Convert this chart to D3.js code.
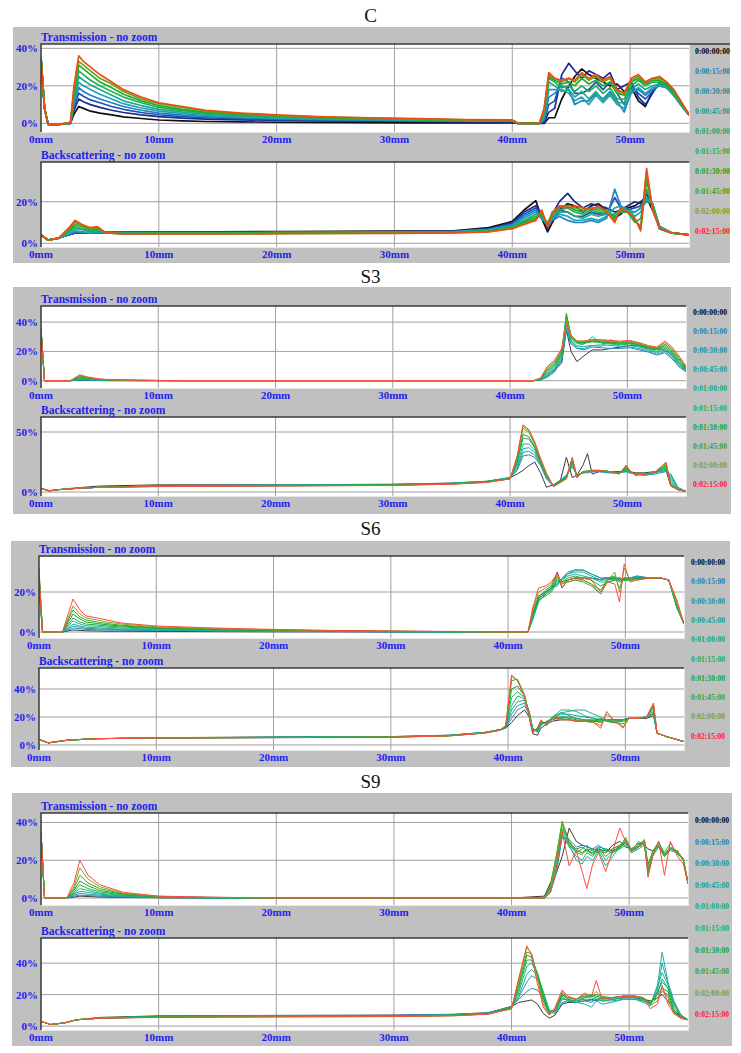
<!DOCTYPE html>
<html>
<head>
<meta charset="utf-8">
<script src="https://cdn.jsdelivr.net/npm/d3@7"></script>
<style>
body { margin: 0; background: #fff; }
svg { display: block; }
</style>
</head>
<body>
<div id="chart"></div>
<script>
// legend entries (scan times)
const times = ["0:00:00:00", "0:00:15:00", "0:00:30:00", "0:00:45:00", "0:01:00:00",
               "0:01:15:00", "0:01:30:00", "0:01:45:00", "0:02:00:00", "0:02:15:00"]
const timeColors = ["#000000", "#1f7fae", "#1a8f9c", "#17a08a", "#14aa70",
                    "#18b050", "#12a822", "#40a420", "#84a020", "#ff2020"]
const lineColorsC = ["#101010", "#1a2a92", "#1f50b2", "#2082c2", "#20a2b4",
                     "#1eaa8c", "#20b058", "#26a82c", "#5aa820", "#f24a14"]
const lineColorsS = ["#3a3a3a", "#2a8ab8", "#20a0b0", "#1cb0a0", "#1cb880",
                     "#20b050", "#14a424", "#40a820", "#84a424", "#ff4a40"]
const xTicks = [0, 10, 20, 30, 40, 50]

// ---------- C ----------
const cTransX = [0, 0.3, 0.6, 1.5, 2.5, 2.8, 3.2, 3.6, 4.2, 5, 6, 7, 8.5, 10, 12, 14, 17, 20, 24, 28, 32, 36, 40, 40.5, 42.3,
  42.7, 43.1, 43.6, 44.2, 44.8, 45.3, 45.9, 46.5, 47.1, 47.7, 48.3, 48.9, 49.5, 50.1, 50.7, 51.3, 51.9, 52.5, 53.1, 53.7, 54.3, 55]
const cTrans = [
  [33, 8, -0.5, -0.5, 0, 5, 9, 8, 6.5, 5.5, 4.5, 3.5, 2.6, 1.8, 1.3, 1, 0.8, 0.6, 0.5, 0.4, 0.3, 0.3, 0.3, 0, 0, 0, 3, 3, 13, 20, 25, 29, 26, 24, 22, 20, 21, 17, 19, 12, 9, 17, 21, 21, 17, 11, 5],
  [35, 8, -0.5, -0.5, 0, 7, 13, 11.5, 10, 8.5, 7, 5.8, 4.5, 3.6, 2.8, 2.3, 1.9, 1.6, 1.3, 1.2, 1, 0.9, 0.9, 0, 0, 0.5, 6, 8, 26, 32, 28, 24, 28, 26, 24, 27, 18, 20, 22, 14, 10, 16, 22, 20, 16, 10, 4.5],
  [35, 8, -0.5, -0.5, 0, 9, 16, 14.5, 12.5, 11, 9, 7.5, 5.8, 4.6, 3.6, 3, 2.4, 2, 1.7, 1.4, 1.2, 1.1, 1, 0, 0, 1, 10, 12, 24, 22, 16, 16, 18, 22, 18, 22, 16, 10, 20, 16, 13, 17, 21, 19, 15, 10, 4.5],
  [35, 8, -0.5, -0.5, 0, 10, 19, 17, 15, 13, 11, 9, 7, 5.5, 4.4, 3.6, 2.9, 2.4, 2, 1.7, 1.4, 1.2, 1.1, 0, 0, 2, 14, 16, 20, 18, 10, 12, 12, 16, 13, 17, 12, 6, 17, 18, 15, 18, 20, 19, 15, 10, 4.5],
  [35, 8, -0.5, -0.5, 0, 12, 22, 20, 18, 15.5, 13, 10.5, 8.2, 6.5, 5.2, 4.2, 3.4, 2.8, 2.3, 2, 1.6, 1.4, 1.3, 0, 0, 3, 18, 18, 18, 16, 12, 14, 10, 15, 11, 15, 10, 8, 16, 19, 16, 19, 20, 19, 15, 10, 4.5],
  [35, 8, -0.5, -0.5, 0.1, 13, 25, 23, 20.5, 18, 15, 12, 9.5, 7.5, 6, 4.8, 3.8, 3.2, 2.6, 2.2, 1.8, 1.5, 1.4, 0, 0, 4, 22, 20, 17, 18, 14, 17, 13, 17, 12, 16, 11, 11, 18, 21, 18, 20, 21, 19, 15, 10, 4.5],
  [35, 8, -0.5, -0.5, 0.2, 15, 28, 26, 23, 20, 17, 14, 11, 8.5, 6.8, 5.5, 4.3, 3.6, 2.9, 2.4, 2, 1.7, 1.5, 0, 0, 5, 24, 22, 19, 20, 17, 20, 17, 20, 16, 19, 13, 13, 20, 23, 20, 22, 22, 20, 16, 11, 4.5],
  [35, 8, -0.5, -0.5, 0.3, 16, 31, 29, 26, 22, 19, 15.5, 12, 9.5, 7.5, 6, 4.8, 4, 3.1, 2.6, 2.2, 1.8, 1.6, 0, 0, 6, 25, 23, 21, 22, 20, 24, 21, 23, 20, 22, 16, 15, 22, 24, 21, 23, 23, 21, 17, 11, 4.5],
  [35, 8, -0.5, -0.5, 0.4, 18, 33, 31, 28, 24, 21, 17, 13, 10.5, 8.5, 6.5, 5.2, 4.2, 3.3, 2.8, 2.3, 1.9, 1.7, 0, 0, 7, 26, 24, 22, 24, 22, 26, 23, 25, 22, 24, 17, 16, 23, 25, 22, 24, 24, 22, 18, 12, 4.5],
  [35, 8, -0.5, -0.5, 0.5, 20, 36, 33, 30, 26, 22, 18, 14, 11, 9, 7, 5.5, 4.5, 3.5, 3, 2.5, 2, 1.8, 0, 0, 8, 27, 24, 23, 24, 23, 27, 24, 26, 23, 25, 18, 16, 24, 26, 22, 24, 25, 22, 18, 12, 4.5]
]
const cBackX = [0, 0.6, 1.5, 2.3, 2.9, 3.5, 4.2, 4.8, 5.5, 7, 10, 15, 20, 25, 30, 35, 38, 40, 41, 42,
  42.5, 43, 43.4, 44, 44.7, 45.3, 46, 46.7, 47.3, 48, 48.7, 49.2, 49.8, 50.4, 50.9, 51.4, 51.9, 52.5, 53.5, 55]
const cBack = [
  [4, 1.5, 2.5, 4, 5, 5, 5, 5, 5.2, 5.3, 5.4, 5.5, 5.6, 5.7, 5.8, 6, 7.5, 10.5, 16, 20.5, 12, 5.5, 10, 16, 19, 18, 15, 18, 19, 16, 12, 14, 17, 18, 20, 22, 16, 8, 5, 4],
  [4, 1.5, 2.5, 4, 5, 5, 5, 5, 5.1, 5.2, 5.3, 5.3, 5.4, 5.5, 5.6, 5.8, 7, 10, 15, 18, 14, 7, 14, 20, 24, 20, 17, 19, 18, 17, 15, 16, 18, 20, 19, 24, 18, 8, 5, 4],
  [4, 1.5, 2.5, 4, 5, 5, 5, 5, 5, 5.1, 5.2, 5.2, 5.3, 5.4, 5.5, 5.7, 6.8, 9.5, 14, 17, 13, 8, 12, 16, 15, 13, 13, 15, 14, 14, 22, 17, 16, 17, 18, 22, 19, 8, 5, 4],
  [4, 1.5, 2.5, 4, 5.5, 5.2, 5, 5.2, 5, 5, 5.1, 5.1, 5.2, 5.3, 5.4, 5.6, 6.6, 9, 13, 16, 12, 9, 11, 13, 11, 10, 10, 11, 10, 12, 26, 18, 15, 15, 17, 20, 19, 8, 5, 4],
  [4, 1.5, 2.5, 4.5, 6, 5.5, 5, 5.5, 5, 4.9, 5, 5, 5.1, 5.2, 5.3, 5.5, 6.4, 8.5, 12, 15, 12, 9, 12, 14, 13, 11, 11, 12, 11, 13, 17, 18, 16, 15, 17, 21, 19, 8, 5, 4],
  [4, 1.5, 2.5, 5, 7, 6.5, 5.5, 6, 5, 4.8, 4.9, 4.9, 5, 5.1, 5.2, 5.4, 6.2, 8, 11, 14, 12, 10, 13, 15, 15, 13, 12, 14, 13, 14, 14, 16, 16, 13, 15, 22, 19, 7, 5, 4],
  [4, 1.5, 2.5, 5.5, 8, 7, 6, 6.5, 5, 4.7, 4.8, 4.8, 4.9, 5, 5.1, 5.3, 6, 7.8, 10.5, 13, 13, 10, 14, 16, 17, 15, 14, 16, 15, 15, 13, 15, 15, 10, 12, 26, 18, 7, 5, 4],
  [4, 1.5, 2.5, 6, 9, 8, 6.5, 7, 5, 4.6, 4.7, 4.7, 4.8, 4.9, 5, 5.2, 5.8, 7.5, 10, 12, 14, 9, 15, 17, 18, 16, 15, 17, 16, 16, 12, 16, 15, 11, 8, 30, 18, 7, 5, 4],
  [4, 1.5, 2.5, 6.5, 10, 8.5, 7, 7.5, 5, 4.5, 4.6, 4.6, 4.7, 4.8, 4.9, 5.1, 5.6, 7.2, 9.5, 11.5, 15, 8.5, 15, 18, 18, 17, 16, 17, 17, 16, 11, 17, 15, 12, 7, 34, 17, 7, 5, 4],
  [4, 1.5, 2.5, 7, 11, 9, 7.5, 8, 5, 4.5, 4.5, 4.5, 4.6, 4.7, 4.8, 5, 5.5, 7, 9, 11, 16, 8, 14, 18, 17, 18, 17, 16, 18, 15, 10, 17, 15, 12, 6, 36, 16, 7, 5, 4]
]

// ---------- S3 ----------
const s3TransX = [0, 0.3, 0.6, 2.5, 3.3, 4, 5, 6, 8.5, 12, 20, 30, 40, 42, 42.6, 43.2, 43.8, 44.4, 44.8, 45.2,
  45.7, 46.3, 47, 47.8, 48.6, 49.4, 50.2, 51, 51.8, 52.5, 53.2, 53.8, 54.4, 55]
const s3Trans = [
  [33, 0, 0, 0, 0.3, 0.2, 0.1, 0, 0, 0, 0, 0, 0, 0, 0.5, 4, 7.5, 12, 34.6, 20, 13, 17, 21, 21, 22, 23, 24, 24, 23, 22, 21, 18, 12, 7],
  [35, 0, 0, 0, 0.5, 0.4, 0.2, 0.1, 0, 0, 0, 0, 0, 0, 0.4, 2.5, 6, 14, 35, 25, 22, 21, 23, 22.5, 22, 22, 22.5, 21, 19.5, 17.5, 19, 15, 9.5, 6],
  [35, 0, 0, 0, 0.8, 0.6, 0.3, 0.2, 0, 0, 0, 0, 0, 0, 0.5, 3, 7, 15, 36, 26, 22, 22, 24, 23.5, 28, 23, 23, 22, 20, 18, 20, 16, 10, 6.5],
  [35, 0, 0, 0, 1, 0.8, 0.4, 0.2, 0.1, 0, 0, 0, 0, 0, 0.6, 4, 8, 16, 38, 27, 23, 23.5, 24, 24.5, 24, 23.5, 24, 23, 21, 19, 21, 17, 11, 7],
  [35, 0, 0, 0, 1.5, 1.2, 0.6, 0.3, 0.1, 0, 0, 0, 0, 0, 0.8, 5, 9, 17, 40, 28, 24, 25, 30, 25.5, 25, 24.5, 25, 23.5, 21.5, 20, 22, 18, 12, 7.5],
  [35, 0, 0, 0, 2, 1.5, 0.8, 0.4, 0.2, 0, 0, 0, 0, 0, 1, 6, 10, 18, 43, 29, 25.5, 25.5, 26.5, 26, 25.5, 25, 25.5, 24, 22, 21, 23, 19, 13, 8],
  [35, 0, 0, 0, 2.5, 1.8, 0.9, 0.4, 0.2, 0, 0, 0, 0, 0, 1, 7, 11, 19, 46, 30, 26, 26, 27, 26.5, 26, 25.5, 26, 24.5, 22.5, 21.5, 24, 20, 14, 8.5],
  [35, 0, 0, 0, 3, 2, 1, 0.5, 0.2, 0, 0, 0, 0, 0, 1.2, 8, 12, 20, 44, 31, 26.5, 26.5, 27.5, 27, 26.5, 26, 26.5, 25, 23, 22, 25, 21, 15, 9],
  [35, 0, 0, 0, 3.5, 2.2, 1, 0.5, 0.3, 0, 0, 0, 0, 0, 1.5, 9, 13, 21, 42, 31, 27, 27, 28, 27.5, 27, 26.5, 27, 25.5, 23.5, 22.5, 26, 22, 16, 9.5],
  [36, 0, 0, 0, 4, 2.5, 1.2, 0.6, 0.3, 0, 0, 0, 0, 0, 2, 10, 14, 22, 39, 30, 27, 27, 28, 28, 27.5, 27, 27.5, 26, 24, 23, 27, 23, 17, 10]
]
const s3BackX = [0, 0.7, 1.5, 3, 5, 10, 20, 30, 35, 38, 40, 40.6, 41.1, 41.6, 42.1, 42.6, 43.1, 43.7, 44.3, 44.8,
  45.3, 45.7, 46.2, 46.6, 47, 47.6, 48.5, 49.3, 49.9, 50.2, 50.7, 51.5, 52.3, 53.3, 53.7, 54.3, 55]
const s3Back = [
  [3, 1, 2, 3.5, 5, 6, 6, 6.5, 7.5, 9, 12, 15, 18, 22, 25, 16, 4, 6, 10, 29, 12, 14, 22, 32, 15, 17, 17, 17, 18, 17, 16, 16, 17, 18, 5, 2, 0.5],
  [3, 1, 2, 3, 4, 5.3, 5.8, 6.3, 7.3, 8.8, 12, 18, 30, 31, 29, 22, 11, 5, 10, 14, 21, 14, 16, 16, 17, 17, 16, 16, 17, 16, 15, 14, 15, 17, 15, 4, 0.5],
  [3, 1, 2, 3, 4, 5.2, 5.7, 6.2, 7.2, 8.7, 12, 19, 33, 34, 31, 23, 12, 5, 10, 14, 22, 14, 16, 17, 17, 17, 16, 16, 17, 16, 15, 14, 16, 18, 14, 3, 0.5],
  [3, 1, 2, 3, 4, 5.1, 5.6, 6.1, 7.1, 8.6, 11.5, 20, 36, 37, 33, 24, 12, 5, 10, 13, 28, 14, 16, 17, 17, 18, 17, 16, 18, 17, 15, 14, 16, 19, 12, 3, 0.5],
  [3, 1, 2, 3, 4, 5, 5.5, 6, 7, 8.5, 11.5, 22, 40, 40, 35, 24, 13, 5, 9, 13, 24, 13, 16, 17, 18, 18, 17, 16, 18, 17, 15, 15, 17, 20, 10, 2, 0.5],
  [3, 1, 2, 3, 4, 4.9, 5.4, 5.9, 6.9, 8.4, 11.5, 24, 45, 44, 37, 25, 13, 5, 9, 12, 25, 13, 17, 17.5, 18, 18, 17, 16, 19, 17, 15, 15, 16, 21, 8, 2, 0.5],
  [3, 1, 2, 3, 4, 4.8, 5.3, 5.8, 6.8, 8.3, 11, 26, 48, 46, 38, 25, 14, 5, 9, 12, 26, 13, 17, 17.5, 18, 18, 17, 15.5, 20, 17, 14.5, 15, 16, 22, 7, 2, 0.5],
  [3, 1, 2, 3, 4, 4.7, 5.2, 5.7, 6.7, 8.2, 11, 28, 53, 50, 40, 26, 14, 5, 8.5, 11, 27, 12.5, 17, 17, 18, 18, 17, 15, 21, 17, 14, 15, 16, 23, 6, 2, 0.5],
  [3, 1, 2, 3, 4, 4.6, 5.1, 5.6, 6.6, 8.1, 11, 29, 55, 51, 41, 27, 15, 4.5, 8, 11, 28, 12, 17, 17, 18, 18, 17, 15, 22, 18, 14, 15, 16, 24, 5, 2, 0.5],
  [3, 1, 2, 3, 4, 4.5, 5, 5.5, 6.5, 8, 11, 30, 56, 52, 42, 28, 16, 4.4, 8, 11.5, 29, 12, 17, 17, 18, 18, 17, 15, 22.5, 18, 14, 15, 16, 25, 5, 2, 0.5]
]

// ---------- S6 ----------
const s6TransX = [0, 0.3, 0.6, 2, 2.9, 3.5, 4, 5, 5.8, 7, 10, 15, 20, 25, 30, 35, 40, 41.7, 42.1, 42.6,
  43.2, 43.7, 44.2, 44.6, 45.1, 45.7, 46.4, 47.1, 47.9, 48.5, 49.1, 49.5, 49.9, 50.4, 51, 52, 53, 53.7, 54.4, 55]
const s6Trans = [
  [22, 0, 0, 0, 1, 0.8, 0.6, 0.5, 0.4, 0.4, 0.3, 0.2, 0.1, 0.1, 0, 0, 0, 0, 8, 18, 20, 22, 30, 22, 26, 27, 27, 27, 26, 27, 27, 26, 27, 27, 27, 27, 27, 26, 14, 4],
  [24, 0, 0, 0, 2, 1.6, 1.3, 1.1, 1, 0.9, 0.7, 0.5, 0.3, 0.2, 0.1, 0, 0, 0, 6, 15, 19, 22, 24, 26, 29, 31, 31, 29, 27, 27, 26, 27, 26, 27, 28, 27, 27, 26, 13, 4],
  [24, 0, 0, 0, 3, 2.3, 1.8, 1.6, 1.4, 1.2, 0.9, 0.6, 0.4, 0.3, 0.2, 0, 0, 0, 7, 16, 20, 22, 23, 27, 30, 31, 31, 29, 27, 27, 27, 27, 26, 27, 28, 27, 27, 26, 12, 4],
  [25, 0, 0, 0, 4, 3, 2.4, 2.1, 1.8, 1.5, 1.1, 0.7, 0.5, 0.3, 0.2, 0.1, 0, 0, 7, 17, 21, 23, 24, 27, 29, 30, 30, 28, 26, 26, 27, 27, 26, 27, 27, 27, 27, 26, 12, 4],
  [26, 0, 0, 0, 5.5, 4, 3.2, 2.8, 2.4, 2, 1.4, 0.9, 0.6, 0.4, 0.2, 0.1, 0, 0, 8, 18, 20, 22, 25, 26, 28, 29, 28, 27, 25, 25, 26, 27, 26, 27, 27, 27, 27, 26, 12, 4],
  [28, 0, 0, 0, 7, 5, 4, 3.5, 3, 2.5, 1.7, 1.1, 0.8, 0.5, 0.3, 0.1, 0, 0, 8, 16, 18, 20, 26, 25, 27, 28, 27, 26, 23, 25, 26, 26, 26, 26, 27, 27, 27, 26, 13, 4],
  [30, 0, 0, 0, 9, 6.5, 5, 4.2, 3.6, 3, 2, 1.3, 0.9, 0.5, 0.3, 0.2, 0, 0, 9, 17, 19, 21, 27, 25, 26, 27, 26, 24, 21, 26, 27, 25, 26, 26, 27, 27, 27, 26, 13, 4],
  [32, 0, 0, 0, 11, 7.5, 6, 5, 4.2, 3.4, 2.2, 1.5, 1, 0.6, 0.4, 0.2, 0, 0, 10, 18, 20, 23, 28, 25, 25, 26, 25, 23, 19, 27, 28, 22, 27, 26, 26, 27, 27, 26, 14, 4],
  [30, 0, 0, 0, 13, 9, 7, 6, 5, 4, 2.6, 1.7, 1.1, 0.7, 0.4, 0.2, 0, 0, 11, 20, 22, 24, 29, 24, 25, 26, 26, 24, 19, 26, 30, 20, 32, 26, 26, 27, 27, 26, 14, 4],
  [28, 0, 0, 0, 16.5, 11, 8, 7, 6, 4.5, 3, 2, 1.3, 0.8, 0.5, 0.3, 0, 0, 12, 22, 23, 25, 29.5, 22, 26, 27, 27, 26, 20, 25, 24, 15, 34, 25, 26, 27, 27, 26, 16, 4]
]
const s6BackX = [0, 0.8, 2.5, 5, 10, 20, 30, 35, 38, 39.3, 39.8, 40.3, 40.8, 41.4, 41.8, 42.1, 42.5, 42.8, 43.3, 43.8,
  44.5, 45.2, 45.8, 46.5, 47.3, 47.9, 48.4, 49, 49.8, 50.3, 51, 51.8, 52.4, 52.7, 53.5, 55]
const s6Back = [
  [4, 1.5, 3.5, 4.5, 5.2, 5.7, 6, 7, 9, 11, 12, 16, 21, 25, 20, 8, 7, 12, 15, 17, 18, 18, 17, 17, 17, 17, 18, 18, 18, 19, 19, 19, 21, 8.4, 6, 2.4],
  [4, 1.5, 3.5, 4.5, 5, 5.6, 5.9, 6.9, 8.9, 10.9, 12, 19, 25, 28, 22, 12, 9, 14, 17, 18, 20, 20, 19, 18, 18, 18, 18, 18, 18, 19, 19, 20, 22, 8.4, 6, 2.4],
  [4, 1.5, 3.5, 4.5, 5, 5.5, 5.8, 6.8, 8.8, 10.8, 12, 22, 28, 30, 23, 12, 10, 14, 17, 19, 22, 22, 21, 20, 19, 18, 18, 17, 18, 19, 19, 20, 23, 8.4, 6, 2.4],
  [4, 1.5, 3.5, 4.5, 5, 5.5, 5.8, 6.8, 8.8, 10.8, 12.5, 25, 31, 32, 24, 11, 10, 15, 16, 20, 23, 24, 25, 25, 22, 20, 18, 17, 18, 19, 19, 20, 24, 8.4, 6, 2.4],
  [4, 1.5, 3.5, 4.5, 5, 5.4, 5.7, 6.7, 8.7, 10.7, 12.5, 28, 35, 33, 24, 11, 11, 15, 16, 20, 25, 25, 24, 21, 19, 18, 18, 17, 18, 19, 19, 20, 25, 8.4, 6, 2.4],
  [4, 1.5, 3.5, 4.5, 5, 5.4, 5.7, 6.7, 8.7, 10.7, 13, 34, 38, 34, 23, 10, 11, 16, 16, 19, 23, 21, 19, 18, 17, 18, 17, 16, 18, 19, 19, 20, 27, 8.4, 6, 2.4],
  [4, 1.5, 3.5, 4.5, 5, 5.3, 5.6, 6.6, 8.6, 10.6, 13, 40, 42, 35, 22, 10, 11, 16, 15, 19, 20, 19, 18, 17, 17, 19, 17, 16, 17, 19, 19, 20, 27, 8.4, 6, 2.4],
  [4, 1.5, 3.5, 4.5, 5, 5.3, 5.6, 6.6, 8.6, 10.6, 13.5, 46, 47, 36, 22, 9, 12, 17, 15, 19, 19, 18, 17, 17, 17, 16, 18, 16, 15, 19, 19, 20, 28, 8.4, 6, 2.4],
  [4, 1.5, 3.5, 4.5, 5, 5.2, 5.5, 6.5, 8.5, 10.5, 14, 49, 46, 35, 21, 9, 12, 17, 14, 19, 18, 18, 17, 17, 16, 14, 22, 18, 13, 19, 19, 20, 29, 8.4, 6, 2.4],
  [4, 1.5, 3.5, 4.5, 5, 5.2, 5.5, 6.5, 8.5, 10.5, 14, 50, 46, 34.5, 20, 8.5, 12, 18, 14, 20, 18, 18, 17, 17, 16, 12, 24, 18, 12, 19, 19, 20, 30, 8.4, 6, 2.4]
]

// ---------- S9 ----------
const s9TransX = [0, 0.3, 0.6, 2.2, 2.8, 3.3, 4, 5, 7, 10, 14, 20, 30, 40, 42.8, 43.3, 43.8, 44.3, 44.9, 45.5,
  46, 46.4, 46.9, 47.4, 48, 48.6, 49.2, 49.7, 50.2, 50.8, 51.3, 51.6, 52, 52.5, 53, 53.5, 54.1, 54.6, 55]
const s9Trans = [
  [33, 0, 0, 0, 0.5, 1, 0.8, 0.5, 0.3, 0.1, 0, 0, 0, 0, 1, 8, 13, 22, 37, 30, 28, 27, 26, 25, 24, 28, 30, 27, 26, 29, 28, 26, 25, 27, 22, 26, 25, 20, 8],
  [35, 0, 0, 0, 1, 1.5, 1.3, 1, 0.5, 0.2, 0, 0, 0, 0, 0, 3, 13, 32, 31, 27, 28, 27, 26, 28, 25, 26, 28, 30, 25, 27, 29, 15, 24, 28, 22, 26, 25, 20, 7.5],
  [35, 0, 0, 0, 1.5, 2.5, 2, 1.5, 0.8, 0.3, 0.1, 0, 0, 0, 0, 3, 14, 33, 28, 24, 26, 28, 25, 27, 26, 25, 27, 29, 24, 26, 28, 16, 25, 27, 22, 26, 24, 20, 7.5],
  [35, 0, 0, 0, 2, 3.5, 3, 2, 1, 0.4, 0.1, 0, 0, 0, 0, 4, 16, 34, 27, 22, 20, 24, 22, 26, 20, 24, 26, 28, 25, 28, 30, 14, 24, 28, 23, 26, 25, 20, 7.5],
  [35, 0, 0, 0, 2.5, 5, 4, 2.5, 1.3, 0.5, 0.2, 0, 0, 0, 0, 5, 18, 36, 28, 20, 18, 22, 20, 25, 17, 22, 27, 30, 24, 27, 29, 12, 22, 27, 22, 25, 24, 20, 7.5],
  [35, 0, 0, 0, 3, 7, 5, 3.2, 1.6, 0.6, 0.2, 0, 0, 0, 0, 6, 20, 37, 30, 24, 23, 26, 23, 27, 22, 25, 26, 31, 25, 28, 31, 15, 23, 28, 22, 26, 25, 20, 7.5],
  [35, 0, 0, 0, 4, 9, 6.5, 4, 2, 0.7, 0.3, 0, 0, 0, 0, 7, 22, 39, 29, 26, 27, 25, 24, 26, 25, 24, 28, 29, 26, 27, 30, 18, 24, 30, 23, 27, 24, 21, 8],
  [35, 0, 0, 0, 5, 12, 8, 5, 2.2, 0.8, 0.3, 0, 0, 0, 0, 6, 22, 40.7, 30, 25, 24, 26, 25, 24, 26, 25, 27, 32, 25, 30, 28, 14, 25, 29, 24, 29, 23, 21, 8],
  [35, 0, 0, 0, 6, 16, 10, 6, 2.5, 0.9, 0.4, 0, 0, 0, 0, 5, 20, 40, 28, 26, 24, 25, 23, 25, 24, 26, 28, 30, 26, 27, 29, 16, 24, 28, 22, 26, 25, 20, 8],
  [35, 0, 0, 0, 8, 20, 12, 7, 3, 1, 0.5, 0, 0, 0, 0, 3, 15, 35, 17, 25, 14, 5, 18, 24, 14, 25, 37, 30, 26, 27, 30, 11, 22, 30, 12, 30, 22, 18, 8]
]
const s9BackX = [0, 0.8, 2, 3, 5, 10, 20, 30, 35, 38, 40, 40.6, 41.3, 41.7, 42.2, 42.7, 43.2, 43.7, 44.3, 44.8,
  45.5, 46.2, 46.8, 47.2, 47.7, 48.5, 49.5, 50.5, 51.2, 51.8, 52.4, 52.8, 53.3, 53.8, 54.4, 55]
const s9Back = [
  [3, 1, 2, 4, 5.5, 6.5, 6.8, 7, 7.5, 8.5, 12.5, 15, 16, 16.6, 14, 8, 5, 7, 14, 15, 15, 16, 17, 16, 18, 17, 18, 18, 17, 16, 18, 20, 16, 10, 6, 4],
  [3, 1, 2, 4, 5, 6.3, 6.6, 6.8, 7.3, 8.3, 12.5, 17, 22, 24, 23, 18, 9, 8, 15, 16, 16, 17, 16, 17, 16, 17, 18, 18, 16, 15, 20, 30, 24, 14, 7, 4],
  [3, 1, 2, 4, 5, 6.2, 6.5, 6.7, 7.2, 8.2, 12, 18, 28, 32, 30, 21, 10, 9, 17, 17, 15, 16, 15, 17, 16, 16, 17, 17, 16, 14, 22, 40, 27, 15, 7, 4],
  [3, 1, 2, 4, 5, 6.1, 6.4, 6.6, 7.1, 8.1, 12, 19, 33, 36, 32, 22, 10, 9, 18, 16, 15, 14, 12, 16, 14, 15, 17, 17, 15, 13, 26, 47, 28, 16, 7, 4],
  [3, 1, 2, 4, 5, 6, 6.3, 6.5, 7, 8, 12, 21, 38, 40, 33, 21, 9, 10, 19, 16, 15, 18, 18, 17, 16, 17, 18, 18, 16, 14, 24, 34, 26, 14, 6, 4],
  [3, 1, 2, 4, 5, 5.9, 6.2, 6.4, 6.9, 7.9, 12, 23, 42, 42, 34, 20, 8, 10, 20, 17, 16, 18, 19, 18, 17, 18, 19, 19, 17, 14, 22, 28, 24, 12, 6, 4],
  [3, 1, 2, 4, 5, 5.8, 6.1, 6.3, 6.8, 7.8, 11.5, 25, 45, 44, 33, 18, 8, 10, 20, 18, 17, 19, 20, 19, 18, 18, 19, 19, 18, 15, 20, 24, 22, 10, 5, 4],
  [3, 1, 2, 4, 5, 5.7, 6, 6.2, 6.7, 7.7, 11.5, 27, 47, 46, 32, 16, 7.5, 10, 21, 18, 17, 19, 19, 20, 19, 18, 19, 19, 18, 14, 18, 22, 20, 9, 5, 4],
  [3, 1, 2, 4, 5, 5.6, 5.9, 6.1, 6.6, 7.6, 11, 29, 50, 46, 30, 14, 7, 11, 22, 18, 17, 20, 19, 22, 18, 18, 19, 19, 18, 13, 16, 24, 18, 8, 5, 4],
  [3, 1, 2, 4, 5, 5.5, 5.8, 6, 6.5, 7.5, 11, 30, 51, 45, 27, 12, 7, 12, 23, 19, 17, 21, 19, 29, 17, 18, 19, 19, 18, 11, 14, 26, 14, 8, 5, 4]
]

// layout of the four panels (pixel boxes)
const panels = [
  {name: "C", titleY: 22, box: [13, 27, 730, 263], legend: {x: 695, y: 53.5, step: 20.1, w: 35},
   colors: lineColorsC, lw: 1.7, topLineEnd: 730,
   plots: [
     {title: "Transmission - no zoom", x: cTransX, series: cTrans, yTicks: [0, 20, 40], yDomain: [-4.6, 42.3], left: 41, right: 689, top: 44, bottom: 132},
     {title: "Backscattering - no zoom", x: cBackX, series: cBack, yTicks: [0, 20], yDomain: [-1.8, 39.1], left: 41, right: 689, top: 162, bottom: 247}
   ]},
  {name: "S3", titleY: 283, box: [13, 287, 731, 514], legend: {x: 693, y: 315, step: 19.1, w: 34},
   colors: lineColorsS, lw: 1,
   plots: [
     {title: "Transmission - no zoom", x: s3TransX, series: s3Trans, yTicks: [0, 20, 40], yDomain: [-5, 51], left: 41, right: 686, top: 306, bottom: 388},
     {title: "Backscattering - no zoom", x: s3BackX, series: s3Back, yTicks: [0, 50], yDomain: [-3.3, 62.5], left: 41, right: 686, top: 417, bottom: 496}
   ]},
  {name: "S6", titleY: 535, box: [11, 541, 730, 767], legend: {x: 691, y: 565, step: 19.3, w: 34},
   colors: lineColorsS, lw: 1,
   plots: [
     {title: "Transmission - no zoom", x: s6TransX, series: s6Trans, yTicks: [0, 20], yDomain: [-3, 38], left: 39, right: 684, top: 556, bottom: 638},
     {title: "Backscattering - no zoom", x: s6BackX, series: s6Back, yTicks: [0, 20, 40], yDomain: [-3.6, 55], left: 39, right: 684, top: 668, bottom: 750}
   ]},
  {name: "S9", titleY: 788, box: [12, 793, 732, 1046], legend: {x: 695, y: 823, step: 21.6, w: 34},
   colors: lineColorsS, lw: 1,
   plots: [
     {title: "Transmission - no zoom", x: s9TransX, series: s9Trans, yTicks: [0, 20, 40], yDomain: [-3.7, 45], left: 41, right: 688, top: 813, bottom: 905},
     {title: "Backscattering - no zoom", x: s9BackX, series: s9Back, yTicks: [0, 20, 40], yDomain: [-2.5, 56], left: 41, right: 688, top: 938, bottom: 1030}
   ]}
]

const blue = "#2222ee"
const serif = "'Liberation Serif', 'DejaVu Serif', serif"

const svg = d3.select("#chart").append("svg")
    .attr("width", 741)
    .attr("height", 1053)
    .style("font-family", serif)

let clipId = 0

panels.forEach(p => {
    // panel letter
    svg.append("text")
        .attr("x", 370.5)
        .attr("y", p.titleY)
        .attr("text-anchor", "middle")
        .style("font-size", "19px")
        .attr("fill", "#111")
        .text(p.name)

    const [bx0, by0, bx1, by1] = p.box
    svg.append("rect")
        .attr("x", bx0).attr("y", by0)
        .attr("width", bx1 - bx0).attr("height", by1 - by0)
        .attr("fill", "#c0c0c0")

    p.plots.forEach((pl, k) => {
        const x = d3.scaleLinear().domain([0, 55]).range([pl.left, pl.right])
        const y = d3.scaleLinear().domain(pl.yDomain).range([pl.bottom, pl.top])

        const g = svg.append("g")

        g.append("rect")
            .attr("x", pl.left).attr("y", pl.top)
            .attr("width", pl.right - pl.left).attr("height", pl.bottom - pl.top)
            .attr("fill", "#fff")

        // grid
        g.selectAll(".vgrid").data(xTicks.slice(1)).join("line")
            .attr("x1", d => x(d)).attr("x2", d => x(d))
            .attr("y1", pl.top).attr("y2", pl.bottom)
            .attr("stroke", "#a0a0a0").attr("stroke-width", 1)
        g.selectAll(".hgrid").data(pl.yTicks).join("line")
            .attr("x1", pl.left).attr("x2", pl.right)
            .attr("y1", d => y(d)).attr("y2", d => y(d))
            .attr("stroke", "#a0a0a0").attr("stroke-width", 1)

        // curves
        const id = "clip" + (clipId++)
        g.append("clipPath").attr("id", id).append("rect")
            .attr("x", pl.left).attr("y", pl.top)
            .attr("width", pl.right - pl.left).attr("height", pl.bottom - pl.top)

        const line = d3.line()
            .x(d => x(d[0]))
            .y(d => y(d[1]))

        g.append("g").attr("clip-path", `url(#${id})`)
            .selectAll("path")
            .data(pl.series)
            .join("path")
            .attr("fill", "none")
            .attr("stroke", (d, i) => p.colors[i])
            .attr("stroke-width", p.lw)
            .attr("stroke-linejoin", "round")
            .attr("d", d => line(d3.zip(pl.x, d)))

        // frame: dark top/left, light bottom/right
        const topEnd = (p.topLineEnd && k === 0) ? p.topLineEnd : pl.right
        g.append("path")
            .attr("d", `M${pl.left},${pl.bottom} V${pl.top} H${topEnd}`)
            .attr("fill", "none").attr("stroke", "#3a3a3a").attr("stroke-width", 1.5)
        g.append("path")
            .attr("d", `M${pl.left},${pl.bottom + 0.5} H${pl.right + 0.5} V${pl.top + 1}`)
            .attr("fill", "none").attr("stroke", "#e8e8e8").attr("stroke-width", 1)

        // plot title
        g.append("text")
            .attr("x", pl.left)
            .attr("y", pl.top - 3.5)
            .attr("fill", blue)
            .attr("font-weight", 700)
            .style("font-size", "11.5px")
            .text(pl.title)

        // y tick labels
        g.selectAll(".ylab").data(pl.yTicks).join("text")
            .attr("x", pl.left - 3)
            .attr("y", d => y(d) + 4)
            .attr("text-anchor", "end")
            .attr("fill", blue)
            .attr("font-weight", 700)
            .style("font-size", "11px")
            .text(d => d + "%")

        // x tick labels
        g.selectAll(".xlab").data(xTicks).join("text")
            .attr("x", d => x(d))
            .attr("y", pl.bottom + 11)
            .attr("text-anchor", "middle")
            .attr("fill", blue)
            .attr("font-weight", 700)
            .style("font-size", "11px")
            .text(d => d + "mm")
    })

    // legend of scan times
    svg.append("g").selectAll("text")
        .data(times)
        .join("text")
        .attr("x", p.legend.x)
        .attr("y", (d, i) => p.legend.y + i * p.legend.step)
        .attr("fill", (d, i) => timeColors[i])
        .attr("font-weight", 700)
        .style("font-size", "8px")
        .attr("textLength", p.legend.w)
        .attr("lengthAdjust", "spacingAndGlyphs")
        .text(d => d)
})
</script>
</body>
</html>
